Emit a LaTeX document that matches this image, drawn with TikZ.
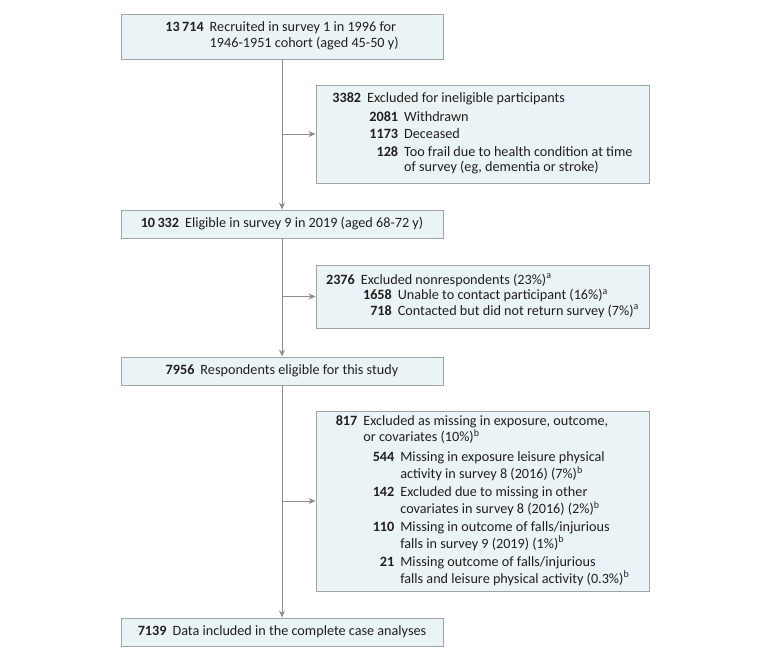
\documentclass[tikz,border=0pt]{standalone}
\usepackage{fontspec}
\setmainfont{Carlito}
\usetikzlibrary{positioning,arrows.meta,calc}
\definecolor{boxfill}{HTML}{EAF3F5}
\definecolor{boxline}{HTML}{A0A4A6}
\definecolor{flowline}{HTML}{8C8C8C}
\definecolor{txt}{HTML}{231F20}
\newcommand{\num}[1]{\textbf{#1}}
\newcommand{\subnum}[1]{\makebox[31pt][r]{\textbf{#1}}}
\tikzset{
  mainbox/.style={draw=boxline, fill=boxfill, line width=0.9pt, inner sep=0pt,
    minimum width=322pt, minimum height=28pt, text=txt, align=left,
    font=\fontsize{14.2}{15.6}\selectfont},
  exclbox/.style={mainbox, minimum width=333pt},
  flow/.style={draw=flowline, line width=0.9pt},
  flowarr/.style={flow, -{Stealth[length=7pt,width=6pt]}}
}

\begin{document}
\begin{tikzpicture}[x=1pt,y=-1pt]
  \useasboundingbox (0,0) rectangle (780,659);

  % main column
  \node[mainbox, minimum height=45pt] (m1) at (282,36.5) {%
    \begin{tabular}{@{}r@{\hspace{6pt}}l@{}}
      \num{13\,714} & Recruited in survey 1 in 1996 for\\
                    & 1946-1951 cohort (aged 45-50 y)
    \end{tabular}};
  \node[mainbox] (m2) at (282,224) {%
    \num{10\,332}\hspace{6pt}Eligible in survey 9 in 2019 (aged 68-72 y)};
  \node[mainbox] (m3) at (282,371) {%
    \num{7956}\hspace{6pt}Respondents eligible for this study};
  \node[mainbox] (m4) at (282,632) {%
    \num{7139}\hspace{6pt}Data included in the complete case analyses};

  % exclusions
  \node[exclbox, minimum height=98pt] (r1) at (482.5,134) {%
    \begin{tabular}{@{}r@{\hspace{6pt}}r@{\hspace{6pt}}l@{}}
      \num{3382} & \multicolumn{2}{@{}l@{}}{Excluded for ineligible participants}\\[3pt]
      & \subnum{2081} & Withdrawn\\[2pt]
      & \subnum{1173} & Deceased\\[2pt]
      & \subnum{128} & Too frail due to health condition at time\\
      & & of survey (eg, dementia or stroke)
    \end{tabular}};
  \node[exclbox, minimum height=63pt] (r2) at (482.5,296.5) {%
    \begin{tabular}{@{}r@{\hspace{6pt}}r@{\hspace{6pt}}l@{}}
      \num{2376} & \multicolumn{2}{@{}l@{}}{Excluded nonrespondents (23\%)\textsuperscript{a}}\\
      & \subnum{1658} & Unable to contact participant (16\%)\textsuperscript{a}\\
      & \subnum{718} & Contacted but did not return survey (7\%)\textsuperscript{a}
    \end{tabular}};
  \node[exclbox, minimum height=180pt] (r3) at (482.5,501) {%
    \begin{tabular}{@{}r@{\hspace{6pt}}r@{\hspace{6pt}}l@{}}
      \num{817} & \multicolumn{2}{@{}l@{}}{Excluded as missing in exposure, outcome,}\\
      & \multicolumn{2}{@{}l@{}}{or covariates (10\%)\textsuperscript{b}}\\[4pt]
      & \subnum{544} & Missing in exposure leisure physical\\
      & & activity in survey 8 (2016) (7\%)\textsuperscript{b}\\[2.5pt]
      & \subnum{142} & Excluded due to missing in other\\
      & & covariates in survey 8 (2016) (2\%)\textsuperscript{b}\\[2.5pt]
      & \subnum{110} & Missing in outcome of falls/injurious\\
      & & falls in survey 9 (2019) (1\%)\textsuperscript{b}\\[2.5pt]
      & \subnum{21} & Missing outcome of falls/injurious\\
      & & falls and leisure physical activity (0.3\%)\textsuperscript{b}
    \end{tabular}};

  % connectors
  \draw[flowarr] (m1) -- (m2);
  \draw[flowarr] (m2) -- (m3);
  \draw[flowarr] (m3) -- (m4);
  \draw[flowarr] (r1.west -| m1.south) -- (r1.west);
  \draw[flowarr] (r2.west -| m2.south) -- (r2.west);
  \draw[flowarr] (r3.west -| m3.south) -- (r3.west);
\end{tikzpicture}
\end{document}
